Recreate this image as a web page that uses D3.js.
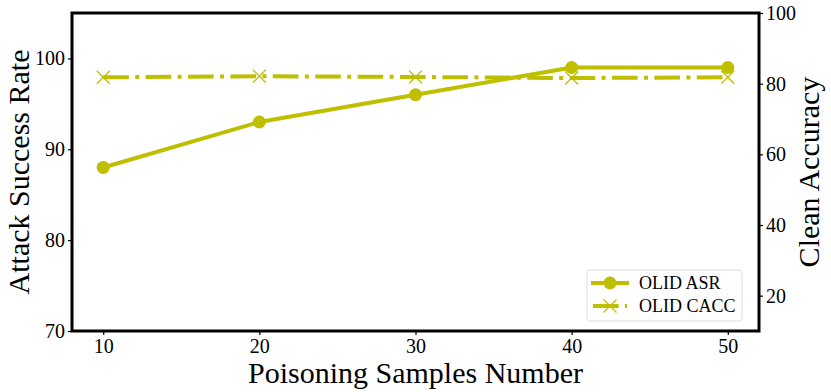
<!DOCTYPE html>
<html>
<head>
<meta charset="utf-8">
<script src="https://d3js.org/d3.v7.min.js"></script>
<style>
  body { margin: 0; background: #fff; }
  text { font-family: "Liberation Serif", "DejaVu Serif", serif; fill: #000; }
</style>
</head>
<body>
<div id="chart"></div>
<script>
// --- data ---
var samples = [10, 20, 30, 40, 50];
var asr = [88, 93, 96, 99, 99];
var cacc = [81.8, 82.1, 81.9, 81.6, 81.8];
var leftTicks = [70, 80, 90, 100];
var rightTicks = [20, 40, 60, 80, 100];

var width = 831, height = 392;
var margin = {left: 72, right: 72, top: 13, bottom: 61};
var color = "#bfbf00";

var svg = d3.select("#chart").append("svg")
    .attr("width", width)
    .attr("height", height);

var x = d3.scaleLinear().domain([8, 52]).range([margin.left, width - margin.right]);
var yL = d3.scaleLinear().domain([70, 105]).range([height - margin.bottom, margin.top]);
var yR = d3.scaleLinear().domain([10, 100]).range([height - margin.bottom, margin.top]);

// axes
var xAxis = svg.append("g")
    .attr("transform", "translate(0," + (height - margin.bottom) + ")")
    .call(d3.axisBottom(x).tickValues(samples).tickSize(4).tickPadding(4));
var lAxis = svg.append("g")
    .attr("transform", "translate(" + margin.left + ",0)")
    .call(d3.axisLeft(yL).tickValues(leftTicks).tickSize(4).tickPadding(3));
var rAxis = svg.append("g")
    .attr("transform", "translate(" + (width - margin.right) + ",0)")
    .call(d3.axisRight(yR).tickValues(rightTicks).tickSize(4).tickPadding(3));

[xAxis, lAxis, rAxis].forEach(function(a) {
  a.select(".domain").remove();
  a.selectAll("text").style("font-size", "20px").style("font-family", "Liberation Serif");
  a.selectAll("line").attr("stroke", "#000").attr("stroke-width", 1.2);
});

// lines
var asrLine = d3.line().x(function(d, i) { return x(samples[i]); }).y(function(d) { return yL(d); });
var caccLine = d3.line().x(function(d, i) { return x(samples[i]); }).y(function(d) { return yR(d); });

svg.append("path").datum(cacc)
    .attr("d", caccLine)
    .attr("fill", "none")
    .attr("stroke", color)
    .attr("stroke-width", 4)
    .attr("stroke-dasharray", "25.6,6.4,4,6.4");

svg.append("path").datum(asr)
    .attr("d", asrLine)
    .attr("fill", "none")
    .attr("stroke", color)
    .attr("stroke-width", 4);

svg.selectAll(".dot").data(asr).enter().append("circle")
    .attr("cx", function(d, i) { return x(samples[i]); })
    .attr("cy", function(d) { return yL(d); })
    .attr("r", 6.5)
    .attr("fill", color);

function cross(g, cx, cy, s) {
  g.append("path")
    .attr("d", "M" + (cx - s) + "," + (cy - s) + "L" + (cx + s) + "," + (cy + s) +
               "M" + (cx - s) + "," + (cy + s) + "L" + (cx + s) + "," + (cy - s))
    .attr("stroke", color)
    .attr("stroke-width", 1.3)
    .attr("fill", "none");
}
cacc.forEach(function(d, i) { cross(svg, x(samples[i]), yR(d), 6.5); });

// frame
svg.append("rect")
    .attr("x", margin.left)
    .attr("y", margin.top)
    .attr("width", width - margin.left - margin.right)
    .attr("height", height - margin.top - margin.bottom)
    .attr("fill", "none")
    .attr("stroke", "#000")
    .attr("stroke-width", 3);

// axis titles
var midY = (margin.top + height - margin.bottom) / 2;
svg.append("text")
    .attr("transform", "translate(29," + midY + ") rotate(-90)")
    .attr("text-anchor", "middle")
    .style("font-size", "30px")
    .text("Attack Success Rate");
svg.append("text")
    .attr("transform", "translate(819," + midY + ") rotate(-90)")
    .attr("text-anchor", "middle")
    .style("font-size", "30px")
    .text("Clean Accuracy");
svg.append("text")
    .attr("x", (margin.left + width - margin.right) / 2)
    .attr("y", 383)
    .attr("text-anchor", "middle")
    .style("font-size", "30px")
    .text("Poisoning Samples Number");

// legend
var lg = svg.append("g").attr("transform", "translate(587,270)");
lg.append("rect")
    .attr("width", 155).attr("height", 51)
    .attr("rx", 3)
    .attr("fill", "#fff")
    .attr("stroke", "#ddd")
    .attr("stroke-width", 1);
lg.append("line").attr("x1", 4).attr("x2", 42).attr("y1", 13).attr("y2", 13)
    .attr("stroke", color).attr("stroke-width", 4);
lg.append("circle").attr("cx", 23).attr("cy", 13).attr("r", 6.5).attr("fill", color);
lg.append("line").attr("x1", 6).attr("x2", 40).attr("y1", 36).attr("y2", 36)
    .attr("stroke", color).attr("stroke-width", 4).attr("stroke-dasharray", "25.6,6.4,4,6.4");
cross(lg, 23, 36, 6.5);
lg.append("text").attr("x", 52).attr("y", 19).style("font-size", "18px").text("OLID ASR");
lg.append("text").attr("x", 52).attr("y", 42).style("font-size", "18px").text("OLID CACC");
</script>
</body>
</html>
